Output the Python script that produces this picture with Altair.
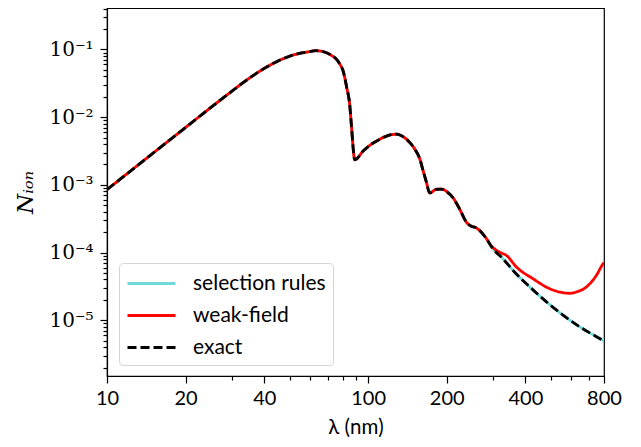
import altair as alt
import pandas as pd

# wavelengths (nm) and ionisation yield shared by all three curves
lam_common = [10, 11, 12.3, 14, 15.8, 17.8, 20.3, 23.2, 26.4, 30, 33, 36, 40, 45, 50, 55,
              60, 63, 66, 69.3, 72.5, 75.7, 78, 80.2, 82.6, 85.1, 86.3, 88.9,
              95.7, 101.5, 107.6, 117.6, 128.5, 136, 144.5, 151, 157.8, 162.4, 167.3,
              172, 182.7, 191, 202, 211, 224, 238, 248.7, 256, 267.6]
n_common = [8.51e-4, 1.138e-3, 1.60e-3, 2.38e-3, 3.44e-3, 4.94e-3, 7.38e-3, 1.11e-2, 1.64e-2,
            2.40e-2, 3.18e-2, 4.04e-2, 5.25e-2, 6.71e-2, 7.94e-2, 8.83e-2, 9.31e-2, 9.59e-2,
            9.44e-2, 8.93e-2, 8.13e-2, 7.13e-2, 6.03e-2, 4.81e-2, 2.86e-2, 1.45e-2, 7.4e-3,
            2.35e-3, 3.16e-3, 3.84e-3, 4.43e-3, 5.26e-3, 5.6e-3, 5.15e-3, 4.2e-3, 3.35e-3,
            2.39e-3, 1.61e-3, 1.08e-3, 7.6e-4, 8.6e-4, 8.65e-4, 7.7e-4, 6.5e-4, 4.4e-4,
            2.8e-4, 2.44e-4, 2.37e-4, 2.11e-4]

# tail of exact / selection-rules curve
lam_exact_tail = [284, 300.9, 328.6, 359, 416, 481.7, 557.5, 645.6, 705.6, 770, 800]
n_exact_tail = [1.59e-4, 1.13e-4, 8.07e-5, 5.43e-5, 3.1e-5, 1.87e-5, 1.19e-5, 8.0e-6,
                6.5e-6, 5.38e-6, 4.94e-6]

# tail of weak-field curve
lam_weak_tail = [284, 292.3, 319, 338.6, 369.8, 428, 496, 557.5, 591, 627.5, 685, 748, 793, 800]
n_weak_tail = [1.6e-4, 1.34e-4, 1.01e-4, 9.04e-5, 6.1e-5, 4.1e-5, 2.92e-5, 2.55e-5, 2.5e-5,
               2.62e-5, 3.1e-5, 4.6e-5, 6.8e-5, 7.1e-5]

series_names = ["selection rules", "weak-field", "exact"]
series_colors = ["#6dd9d9", "#ff0000", "#000000"]
series_dash = [[1, 0], [1, 0], [9, 4]]

x_major = [10, 20, 40, 100, 200, 400, 800]
x_minor = [30, 50, 60, 70, 80, 90, 300, 500, 600, 700]
y_major = [1e-5, 1e-4, 1e-3, 1e-2, 1e-1]
y_minor = [k * 10.0 ** e for e in range(-6, 0) for k in range(2, 10) if 1.5e-6 <= k * 10.0 ** e <= 0.41]

rows = []
for name in series_names:
    tail_l, tail_n = (lam_weak_tail, n_weak_tail) if name == "weak-field" else (lam_exact_tail, n_exact_tail)
    for l, n in zip(lam_common + tail_l, n_common + tail_n):
        rows.append({"series": name, "lam": l, "n": n})
df = pd.DataFrame(rows)

color_scale = alt.Scale(domain=series_names, range=series_colors)
dash_scale = alt.Scale(domain=series_names, range=series_dash)

x_test = "indexof([10,20,40,100,200,400,800], datum.value) >= 0"
y_test = "abs(log(datum.value)/LN10 - round(log(datum.value)/LN10)) < 0.001"

x_axis = alt.Axis(
    values=sorted(x_major + x_minor),
    labelExpr=f"{x_test} ? format(datum.value, 'd') : ''",
    tickSize={"condition": {"test": x_test, "value": 7}, "value": 4},
    title="λ (nm)", titleFont="Lato", titleFontSize=20.5, titleFontWeight="normal",
    titleColor="black", titlePadding=9,
    labelFont="Lato", labelFontSize=20, labelColor="black", labelPadding=5,
    labelFlush=False, labelOverlap=False,
    grid=False, domainColor="black", tickColor="black", tickWidth=1.2, domainWidth=1.2,
)
y_axis = alt.Axis(
    values=y_major + y_minor,
    labelExpr=f"{y_test} ? '10' + ['⁰','⁻¹','⁻²','⁻³','⁻⁴','⁻⁵','⁻⁶'][-round(log(datum.value)/LN10)] : ''",
    tickSize={"condition": {"test": y_test, "value": 7}, "value": 4},
    title="Nᵢₒₙ", titleFont="DejaVu Serif", titleFontSize=23, titleFontStyle="italic",
    titleFontWeight="normal", titleColor="black", titlePadding=11,
    labelFont="DejaVu Serif", labelFontSize=20, labelColor="black", labelPadding=7,
    labelFlush=False, labelOverlap=False, labelBaseline="middle",
    grid=False, domainColor="black", tickColor="black", tickWidth=1.2, domainWidth=1.2,
)

legend = alt.Legend(
    title=None, orient="none", legendX=12, legendY=255,
    symbolType="M-1,0H3", symbolSize=576, symbolStrokeWidth=2.8,
    labelFont="Lato", labelFontSize=21, labelColor="black", labelOffset=40,
    padding=7, rowPadding=8, strokeColor="#d4d4d4", fillColor="white", cornerRadius=4,
)

def layer(name):
    return alt.Chart(df).transform_filter(alt.datum.series == name).mark_line(
        strokeWidth=2.8, clip=True, interpolate="monotone"
    ).encode(
        x=alt.X("lam:Q", scale=alt.Scale(type="log", domain=[10, 800], nice=False), axis=x_axis),
        y=alt.Y("n:Q", scale=alt.Scale(type="log", domain=[1.5e-6, 0.41], nice=False), axis=y_axis),
        color=alt.Color("series:N", scale=color_scale, legend=legend),
        strokeDash=alt.StrokeDash("series:N", scale=dash_scale, legend=legend),
    )

chart = alt.layer(*[layer(s) for s in series_names]).properties(
    width=497, height=368,
    autosize=alt.AutoSizeParams(type="none"),
    padding={"left": 99, "top": 0, "right": 29, "bottom": 63},
).configure_view(stroke="black", strokeWidth=1.2)

chart.save("out.html", embed_options={"renderer": "svg", "actions": False})
